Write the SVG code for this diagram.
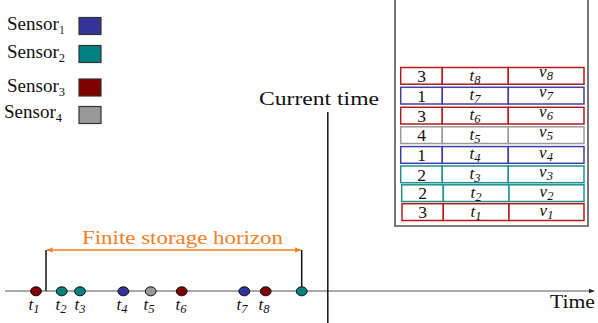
<svg xmlns="http://www.w3.org/2000/svg" width="598" height="323" viewBox="0 0 598 323" font-family="'Liberation Serif', 'DejaVu Serif', serif">
  <defs>
    <marker id="axisHead" viewBox="0 0 10 10" refX="9" refY="5" markerWidth="6" markerHeight="6" orient="auto" markerUnits="userSpaceOnUse">
      <path d="M0,1 L10,5 L0,9 Z" fill="#222"/>
    </marker>
    <marker id="orangeHead" viewBox="0 0 10 10" refX="9" refY="5" markerWidth="8" markerHeight="7" orient="auto-start-reverse" markerUnits="userSpaceOnUse">
      <path d="M0,1 L10,5 L0,9 L2,5 Z" fill="#f57c1f"/>
    </marker>
  </defs>
  <style>
    text { font-family: "Liberation Serif", "DejaVu Serif", serif; fill: #111; }
    .leg { font-size: 19px; }
    .sub { font-size: 12.5px; }
    .it { font-style: italic; font-size: 17px; }
    .num { font-size: 17.5px; text-anchor: middle; }
    .mid { text-anchor: middle; }
    .box { stroke: #333; stroke-width: 1.2; }
    .dot { stroke: #111; stroke-width: 1; }
    .cell { fill: #fff; stroke-width: 1.5; }
    .red { stroke: #b31b1b; }
    .blue { stroke: #3f3fa6; }
    .grey { stroke: #9a9a9a; }
    .teal { stroke: #1f9090; }
    .vline { stroke: #111; stroke-width: 1.5; fill: none; }
    .wall { stroke: #555; stroke-width: 1.6; fill: none; }
  </style>

  <!-- legend -->
  <g id="legend-sensor1">
    <text class="leg" x="7" y="30">Sensor<tspan class="sub" dy="4" style="fill:#2f2f8f">1</tspan></text>
    <rect class="box" x="79" y="17.5" width="22" height="17" fill="#333399"/>
  </g>
  <g id="legend-sensor2">
    <text class="leg" x="7" y="58">Sensor<tspan class="sub" dy="4">2</tspan></text>
    <rect class="box" x="79" y="45.5" width="22" height="17" fill="#008080"/>
  </g>
  <g id="legend-sensor3">
    <text class="leg" x="7" y="91.5">Sensor<tspan class="sub" dy="4">3</tspan></text>
    <rect class="box" x="79" y="79" width="22" height="17" fill="#800000"/>
  </g>
  <g id="legend-sensor4">
    <text class="leg" x="4" y="118">Sensor<tspan class="sub" dy="4">4</tspan></text>
    <rect class="box" x="79" y="106.5" width="22" height="17" fill="#999999"/>
  </g>

  <!-- storage container -->
  <g id="storage">
    <path class="wall" d="M395,0 V226 H588 V0"/>
    <g id="row8">
      <rect class="cell red" x="400.7" y="67.5" width="41.6" height="16.7"/>
      <rect class="cell red" x="442.3" y="67.5" width="66" height="16.7"/>
      <rect class="cell red" x="508.3" y="67.5" width="75.7" height="16.7"/>
      <text class="num" x="421.5" y="82">3</text>
      <text class="it mid" x="475" y="80.5">t<tspan class="sub" dy="3">8</tspan></text>
      <text class="it mid" x="546" y="77">v<tspan class="sub" dy="3">8</tspan></text>
    </g>
    <g id="row7">
      <rect class="cell blue" x="400.7" y="87.3" width="41.6" height="16.7"/>
      <rect class="cell blue" x="442.3" y="87.3" width="66" height="16.7"/>
      <rect class="cell blue" x="508.3" y="87.3" width="75.7" height="16.7"/>
      <text class="num" x="421.5" y="101.8">1</text>
      <text class="it mid" x="475" y="100">t<tspan class="sub" dy="3">7</tspan></text>
      <text class="it mid" x="546" y="97">v<tspan class="sub" dy="3">7</tspan></text>
    </g>
    <g id="row6">
      <rect class="cell red" x="400.7" y="107.3" width="41.6" height="16.7"/>
      <rect class="cell red" x="442.3" y="107.3" width="66" height="16.7"/>
      <rect class="cell red" x="508.3" y="107.3" width="75.7" height="16.7"/>
      <text class="num" x="421.5" y="121.8">3</text>
      <text class="it mid" x="475" y="120">t<tspan class="sub" dy="3">6</tspan></text>
      <text class="it mid" x="546" y="117">v<tspan class="sub" dy="3">6</tspan></text>
    </g>
    <g id="row5">
      <rect class="cell grey" x="400.7" y="126.8" width="41.6" height="16.7"/>
      <rect class="cell grey" x="442.3" y="126.8" width="66" height="16.7"/>
      <rect class="cell grey" x="508.3" y="126.8" width="75.7" height="16.7"/>
      <text class="num" x="421.5" y="141.3">4</text>
      <text class="it mid" x="475" y="139.5">t<tspan class="sub" dy="3">5</tspan></text>
      <text class="it mid" x="546" y="137">v<tspan class="sub" dy="3">5</tspan></text>
    </g>
    <g id="row4">
      <rect class="cell blue" x="400.7" y="146.6" width="41.6" height="16.7"/>
      <rect class="cell blue" x="442.3" y="146.6" width="66" height="16.7"/>
      <rect class="cell blue" x="508.3" y="146.6" width="75.7" height="16.7"/>
      <text class="num" x="421.5" y="161.1">1</text>
      <text class="it mid" x="475" y="159.3">t<tspan class="sub" dy="3">4</tspan></text>
      <text class="it mid" x="546" y="157.5">v<tspan class="sub" dy="3">4</tspan></text>
    </g>
    <g id="row3">
      <rect class="cell teal" x="400.7" y="166" width="41.6" height="16.7"/>
      <rect class="cell teal" x="442.3" y="166" width="66" height="16.7"/>
      <rect class="cell teal" x="508.3" y="166" width="75.7" height="16.7"/>
      <text class="num" x="421.5" y="180.5">2</text>
      <text class="it mid" x="475" y="178.5">t<tspan class="sub" dy="3">3</tspan></text>
      <text class="it mid" x="546" y="177">v<tspan class="sub" dy="3">3</tspan></text>
    </g>
    <g id="row2">
      <rect class="cell teal" x="401.7" y="184.8" width="41.6" height="16.7"/>
      <rect class="cell teal" x="443.3" y="184.8" width="65.7" height="16.7"/>
      <rect class="cell teal" x="509" y="184.8" width="75" height="16.7"/>
      <text class="num" x="422.5" y="199.3">2</text>
      <text class="it mid" x="476" y="197.5">t<tspan class="sub" dy="3">2</tspan></text>
      <text class="it mid" x="546.5" y="196.5">v<tspan class="sub" dy="3">2</tspan></text>
    </g>
    <g id="row1">
      <rect class="cell red" x="402" y="203.7" width="41.3" height="16.8"/>
      <rect class="cell red" x="443.3" y="203.7" width="65.7" height="16.8"/>
      <rect class="cell red" x="509" y="203.7" width="75" height="16.8"/>
      <text class="num" x="422.5" y="218.2">3</text>
      <text class="it mid" x="476" y="216.5">t<tspan class="sub" dy="3">1</tspan></text>
      <text class="it mid" x="546.5" y="215.5">v<tspan class="sub" dy="3">1</tspan></text>
    </g>
  </g>

  <!-- time axis, current time marker and storage horizon -->
  <g id="connectors">
    <line x1="5" y1="291" x2="594" y2="291" stroke="#555" stroke-width="1" marker-end="url(#axisHead)"/>
    <line class="vline" x1="327.8" y1="112" x2="327.8" y2="323"/>
    <line class="vline" x1="46" y1="250" x2="46" y2="291"/>
    <line class="vline" x1="301.7" y1="250" x2="301.7" y2="291"/>
    <line x1="47" y1="250" x2="300.7" y2="250" stroke="#f57c1f" stroke-width="1.6" marker-start="url(#orangeHead)" marker-end="url(#orangeHead)"/>
  </g>

  <g id="labels">
    <text x="259" y="104.5" font-size="18.5px" textLength="120" lengthAdjust="spacingAndGlyphs">Current time</text>
    <text x="550" y="307.5" font-size="18.5px" textLength="45" lengthAdjust="spacingAndGlyphs">Time</text>
    <text x="82" y="244" font-size="18.5px" textLength="201" lengthAdjust="spacingAndGlyphs" style="fill:#f57c1f">Finite storage horizon</text>
  </g>

  <!-- arrival events on the time axis -->
  <g id="events">
    <g id="event1"><ellipse class="dot" cx="36" cy="291.3" rx="5.4" ry="4.5" fill="#800000"/><text class="it mid" x="34" y="310" font-size="18px">t<tspan class="sub" dy="3">1</tspan></text></g>
    <g id="event2"><ellipse class="dot" cx="61.7" cy="291.3" rx="5.4" ry="4.5" fill="#008080"/><text class="it mid" x="61" y="310" font-size="18px">t<tspan class="sub" dy="3">2</tspan></text></g>
    <g id="event3"><ellipse class="dot" cx="80" cy="291.3" rx="5.4" ry="4.5" fill="#008080"/><text class="it mid" x="80" y="310" font-size="18px">t<tspan class="sub" dy="3">3</tspan></text></g>
    <g id="event4"><ellipse class="dot" cx="123.3" cy="291.3" rx="5.4" ry="4.5" fill="#333399"/><text class="it mid" x="122" y="310" font-size="18px">t<tspan class="sub" dy="3">4</tspan></text></g>
    <g id="event5"><ellipse class="dot" cx="150.7" cy="291.3" rx="5.4" ry="4.5" fill="#999999"/><text class="it mid" x="149" y="310" font-size="18px">t<tspan class="sub" dy="3">5</tspan></text></g>
    <g id="event6"><ellipse class="dot" cx="181.7" cy="291.3" rx="5.4" ry="4.5" fill="#800000"/><text class="it mid" x="181" y="310" font-size="18px">t<tspan class="sub" dy="3">6</tspan></text></g>
    <g id="event7"><ellipse class="dot" cx="244.3" cy="291.3" rx="5.4" ry="4.5" fill="#333399"/><text class="it mid" x="242" y="310" font-size="18px">t<tspan class="sub" dy="3">7</tspan></text></g>
    <g id="event8"><ellipse class="dot" cx="265.7" cy="291.3" rx="5.4" ry="4.5" fill="#800000"/><text class="it mid" x="264" y="310" font-size="18px">t<tspan class="sub" dy="3">8</tspan></text></g>
    <g id="event9"><ellipse class="dot" cx="301.7" cy="291.3" rx="5.4" ry="4.5" fill="#008080"/></g>
  </g>
</svg>
